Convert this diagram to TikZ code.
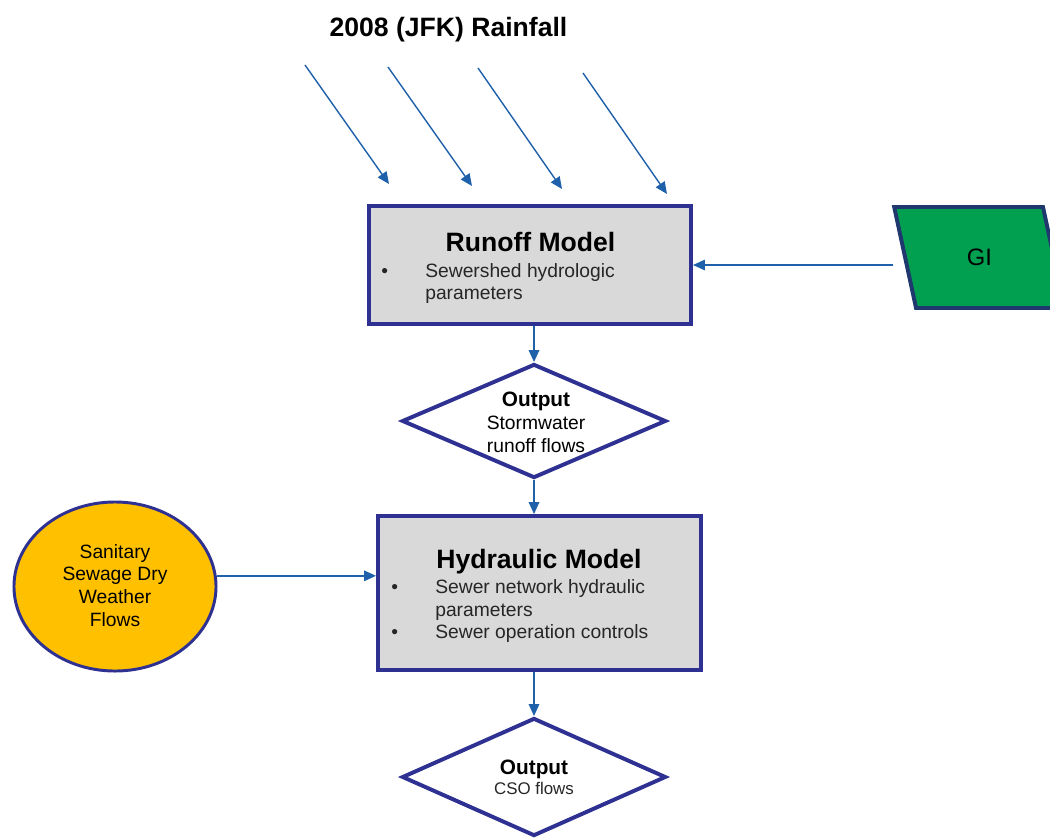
\documentclass[tikz,border=0pt]{standalone}
\usepackage{fontspec}
\setmainfont{Liberation Sans}
\usetikzlibrary{arrows.meta,shapes.geometric,positioning}

\definecolor{flowblue}{RGB}{30,96,170}
\definecolor{boxnavy}{RGB}{46,49,146}
\definecolor{boxgrey}{RGB}{217,217,217}
\definecolor{dryyellow}{RGB}{255,192,0}
\definecolor{gigreen}{RGB}{0,160,80}
\definecolor{ginavy}{RGB}{31,56,110}

\begin{document}
\begin{tikzpicture}[x=0.025cm,y=-0.025cm,>={Triangle[length=8.5pt,width=7.5pt]},
  model box/.style={draw=boxnavy,line width=2.8pt,fill=boxgrey,inner sep=0pt},
  model title/.style={font=\fontsize{18.9}{22}\selectfont\bfseries,inner sep=0pt,anchor=base},
  item list/.style={font=\fontsize{13.7}{16.2}\selectfont,text=black!85,inner sep=0pt,anchor=base west},
  output node/.style={diamond,draw=boxnavy,line width=2.8pt,fill=white,inner sep=0pt,minimum width=6.6cm},
  flow/.style={->,draw=flowblue,line width=1pt}]

  \useasboundingbox (0,0) rectangle (1050,837);

  % rainfall input
  \node[model title] (rain title) at (448.5,36.7) {2008 (JFK) Rainfall};
  \coordinate (rain1 top) at (305,65);  \coordinate (rain1 tip) at (389,184);
  \coordinate (rain2 top) at (388,67);  \coordinate (rain2 tip) at (472,186);
  \coordinate (rain3 top) at (478,68);  \coordinate (rain3 tip) at (562,189);
  \coordinate (rain4 top) at (583,73);  \coordinate (rain4 tip) at (667,194);

  % runoff model
  \node[model box,minimum width=8.05cm,minimum height=2.95cm] (runoff) at (530,265) {};
  \node[model title] (runoff title) at (530.5,251) {Runoff Model};
  \node[item list] (runoff items) at (381,277)
    {\begin{tabular}[t]{@{}p{1.1cm}@{}l@{}}
       \textbullet & Sewershed hydrologic\\
                   & parameters
     \end{tabular}};

  \node[trapezium,trapezium left angle=104.4,trapezium right angle=75.6,trapezium stretches,
        draw=ginavy,line width=2.8pt,fill=gigreen,inner sep=0pt,
        minimum width=4.275cm,minimum height=2.525cm,
        font=\fontsize{16.9}{20}\selectfont] (gi) at (979.5,257.5) {GI};

  % first output
  \node[output node,minimum height=2.85cm] (out1) at (534,421) {};
  \node[item list,anchor=base,text=black] (out1 text) at (536,406.7)
    {\begin{tabular}[t]{@{}c@{}}
       {\fontsize{14.8}{16.2}\selectfont\bfseries Output}\\
       Stormwater\\
       runoff flows
     \end{tabular}};

  % hydraulic model
  \node[model box,minimum width=8.075cm,minimum height=3.85cm] (hydraulic) at (539.5,593) {};
  \node[model title] (hydraulic title) at (539,568.3) {Hydraulic Model};
  \node[item list] (hydraulic items) at (391,593.3)
    {\begin{tabular}[t]{@{}p{1.1cm}@{}l@{}}
       \textbullet & Sewer network hydraulic\\
                   & parameters\\
       \textbullet & Sewer operation controls
     \end{tabular}};

  \node[ellipse,draw=boxnavy,line width=2.1pt,fill=dryyellow,inner sep=0pt,
        minimum width=5.05cm,minimum height=4.225cm] (sanitary) at (115,586.5) {};
  \node[item list,anchor=base,text=black] (sanitary text) at (115,558)
    {\begin{tabular}[t]{@{}c@{}}
       Sanitary\\
       Sewage Dry\\
       Weather\\
       Flows
     \end{tabular}};

  % second output
  \node[output node,minimum height=2.95cm] (out2) at (534,777) {};
  \node[item list,anchor=base,font=\fontsize{12}{14.7}\selectfont] (out2 text) at (534,774.3)
    {\begin{tabular}[t]{@{}c@{}}
       {\fontsize{14.8}{16.2}\selectfont\bfseries\color{black} Output}\\
       CSO flows
     \end{tabular}};

  \path[every edge/.style={flow}]
    (rain1 top) edge (rain1 tip)
    (rain2 top) edge (rain2 tip)
    (rain3 top) edge (rain3 tip)
    (rain4 top) edge (rain4 tip)
    (gi.west |- runoff.east) edge[shorten <=0.25cm] (runoff.east)
    (runoff.south -| out1.north) edge (out1.north)
    (out1.south) edge (out1.south |- hydraulic.north)
    (sanitary.6) edge (sanitary.6 -| hydraulic.west)
    (hydraulic.south -| out2.north) edge (out2.north);
\end{tikzpicture}
\end{document}
